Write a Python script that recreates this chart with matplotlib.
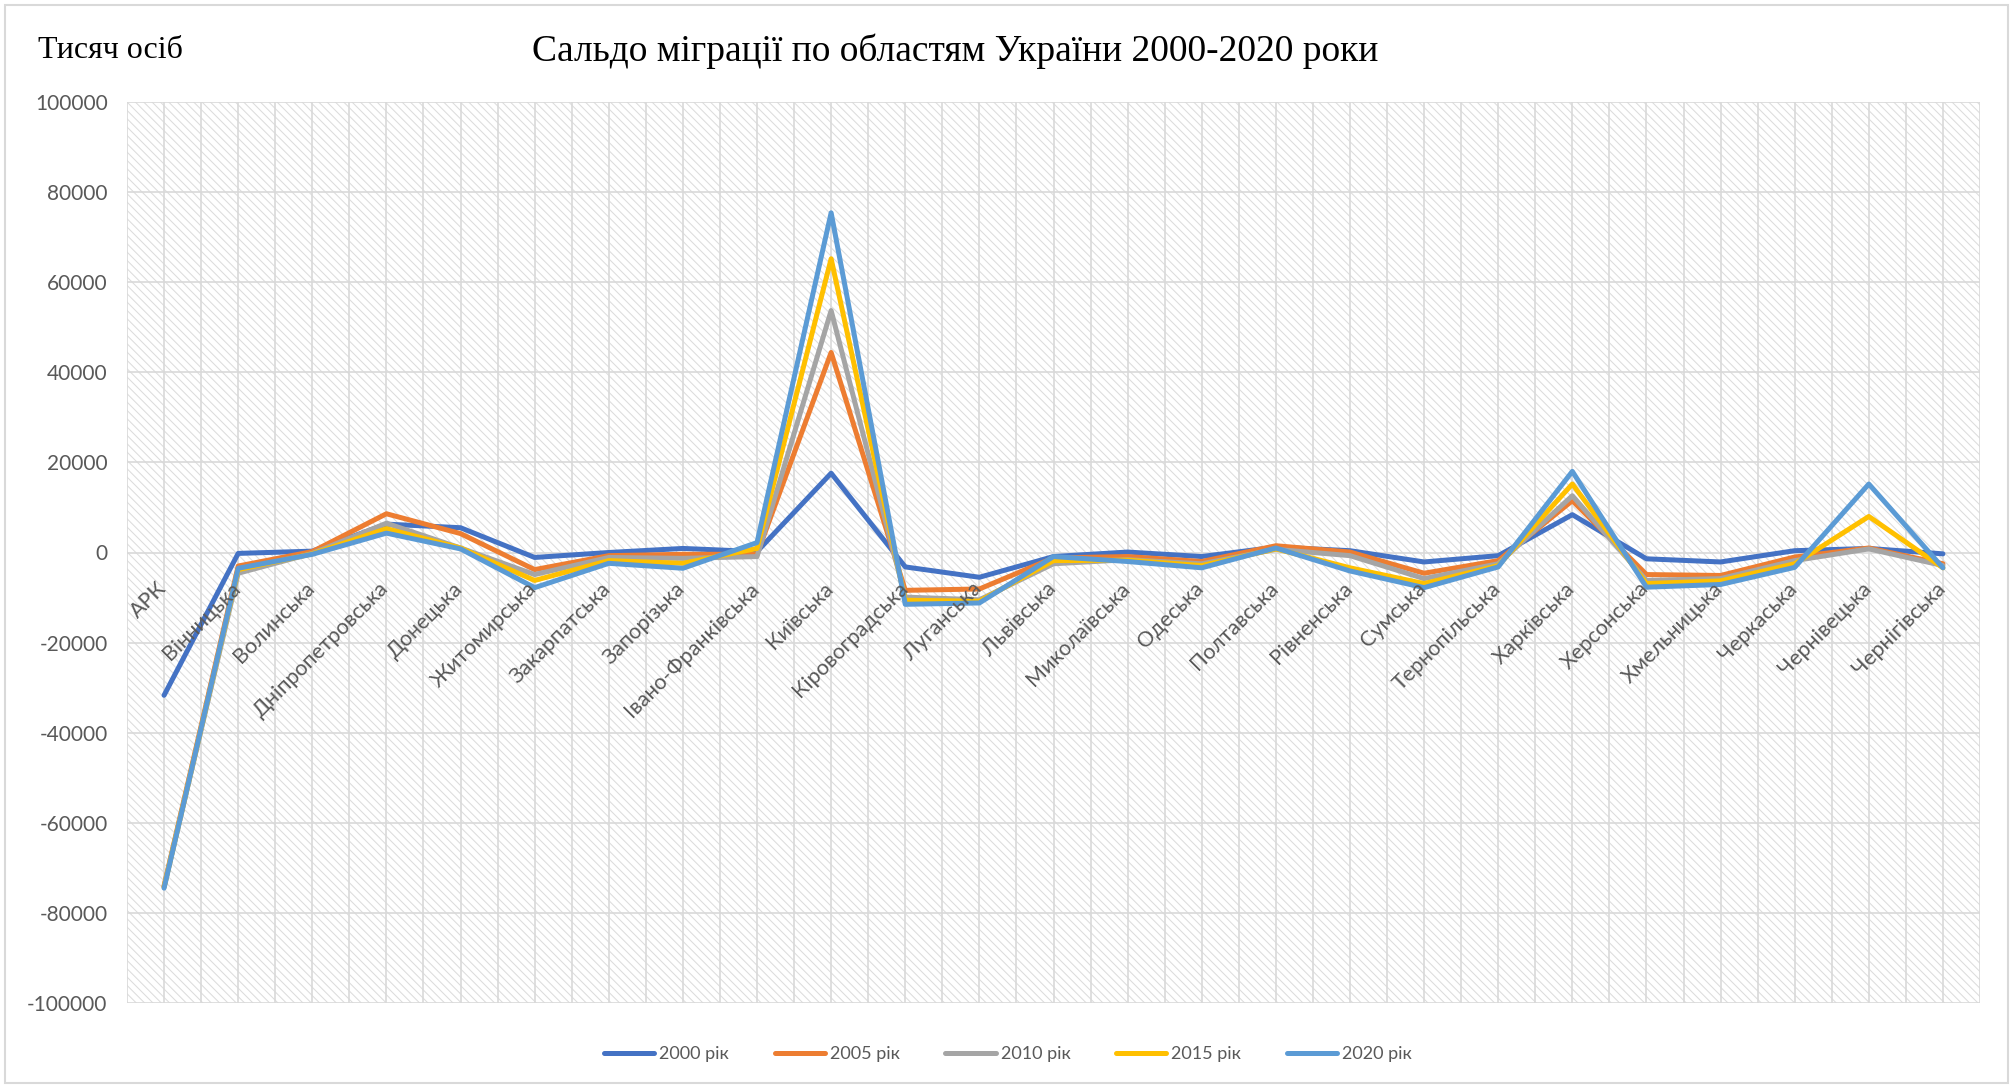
import numpy as np
import matplotlib.pyplot as plt
from matplotlib.patches import Rectangle

regions = ['АРК', 'Вінницька', 'Волинська', 'Дніпропетровська', 'Донецька',
           'Житомирська', 'Закарпатська', 'Запорізька', 'Івано-Франківська',
           'Київська', 'Кіровоградська', 'Луганська', 'Львівська', 'Миколаївська',
           'Одеська', 'Полтавська', 'Рівненська', 'Сумська', 'Тернопільська',
           'Харківська', 'Херсонська', 'Хмельницька', 'Черкаська', 'Чернівецька',
           'Чернігівська']

years = ['2000 рік', '2005 рік', '2010 рік', '2015 рік', '2020 рік']

y2000 = [-31700, -200, 300, 6300, 5500, -1100, 0, 900, 200, 17600, -3200, -5500,
         -900, 100, -900, 1200, 400, -2100, -700, 8400, -1400, -2100, 400, 900, -300]
y2005 = [-74000, -3000, 200, 8600, 4200, -3800, -700, -400, -400, 44400, -8400, -8100,
         -1200, -900, -2000, 1500, 100, -4600, -1800, 11500, -4900, -5100, -1000, 1000, -2500]
y2010 = [-74200, -4600, -200, 6500, 1000, -4900, -1100, -1300, -900, 53700, -9900, -10500,
         -2500, -1600, -2500, 700, -700, -5800, -2500, 12600, -6200, -5800, -1800, 800, -2900]
y2015 = [-74300, -3800, -300, 5300, 1000, -6200, -1800, -2400, 900, 65200, -10600, -10800,
         -1800, -1700, -2900, 800, -3400, -6900, -2900, 15200, -6900, -6300, -2500, 8000, -3400]
y2020 = [-74500, -3500, -400, 4300, 800, -7800, -2400, -3500, 2200, 75400, -11500, -11200,
         -900, -2000, -3400, 1000, -4100, -7800, -3200, 18000, -7700, -7100, -3300, 15200, -3400]

series = [y2000, y2005, y2010, y2015, y2020]
colors = ['#4472C4', '#ED7D31', '#A5A5A5', '#FFC000', '#5B9BD5']
grey_text = '#595959'
grid_col = '#D9D9D9'

plt.rcParams['hatch.linewidth'] = 0.75

fig = plt.figure(figsize=(20.13, 10.88), dpi=100)
ax = fig.add_axes([127 / 2013, 1 - 1003 / 1088, (1980 - 127) / 2013, (1003 - 102) / 1088])

# patterned plot area
ax.patch.set_hatch('\\\\\\\\')
ax.patch.set_edgecolor('#DCDCDC')
ax.patch.set_linewidth(0)

x = np.arange(len(regions))
for vals, col, lab in zip(series, colors, years):
    ax.plot(x, vals, color=col, lw=3.6, label=lab,
            solid_capstyle='round', solid_joinstyle='round', zorder=3)

ax.set_xlim(-0.5, len(regions) - 0.5)
ax.set_ylim(-100000, 100000)
ax.set_xticks(np.arange(-0.5, len(regions), 0.5))
ax.set_xticklabels([])
yt = np.arange(-100000, 100001, 20000)
ax.set_yticks(yt)
ax.set_yticklabels([str(v) for v in yt])
ax.tick_params(axis='both', length=0)
ax.tick_params(axis='y', pad=14, labelsize=15, labelcolor=grey_text)
for lbl in ax.get_yticklabels():
    lbl.set_fontfamily('Lato')
ax.grid(True, color=grid_col, lw=1.2)
ax.set_axisbelow(True)
for s in ax.spines.values():
    s.set_visible(False)

# category labels sit under the zero line
for i, name in enumerate(regions):
    ax.annotate(name, xy=(i, 0), xytext=(-1, -33), textcoords='offset pixels',
                rotation=45, rotation_mode='anchor', ha='right', va='center',
                fontsize=15.5, family='Lato', color=grey_text, zorder=4)

fig.text(955 / 2013, 1 - 51 / 1088, 'Сальдо міграції по областям України 2000-2020 роки',
         ha='center', va='center', fontsize=27, family='Liberation Serif')
fig.text(38 / 2013, 1 - 51 / 1088, 'Тисяч осіб', ha='left', va='center',
         fontsize=23, family='Liberation Serif')

leg = fig.legend(loc='center', bbox_to_anchor=(1008 / 2013, 1 - 1054 / 1088), ncol=5,
                 frameon=False, prop={'family': 'Lato', 'size': 13}, labelcolor=grey_text,
                 handlelength=2.8, handletextpad=0.28, columnspacing=2.5)
for h in leg.get_lines():
    h.set_linewidth(3.6)

fig.add_artist(Rectangle((5 / 2013, 5 / 1088), 2003 / 2013, 1078 / 1088,
                         transform=fig.transFigure, fill=False,
                         edgecolor=grid_col, lw=1.5))

fig.savefig('out.png', dpi=100)
